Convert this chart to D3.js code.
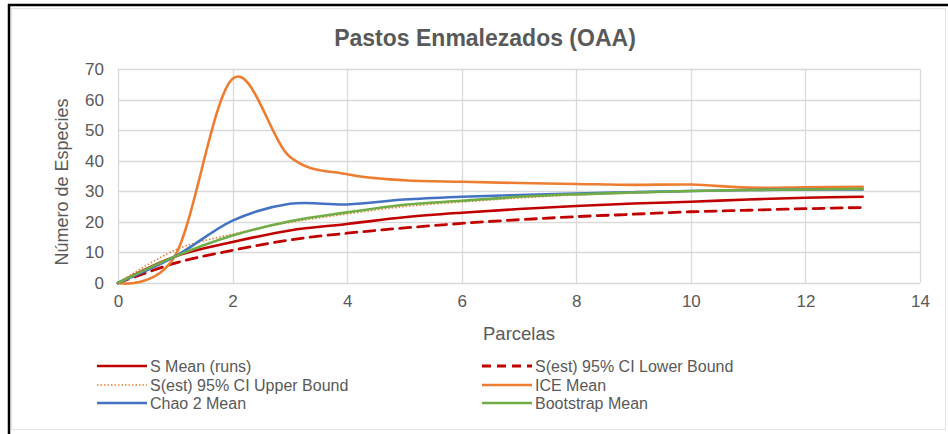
<!DOCTYPE html>
<html>
<head>
<meta charset="utf-8">
<script src="https://cdn.jsdelivr.net/npm/d3@7"></script>
<style>
  body { margin: 0; background: #fff; }
  svg { display: block; font-family: "Liberation Sans", Arial, sans-serif; }
</style>
</head>
<body>
<div class="chart"></div>
<script>
// parcelas 0..13
let parcelas = [0, 1, 2, 3, 4, 5, 6, 7, 8, 9, 10, 11, 12, 13]

let s_mean    = [0, 8.7, 13.4, 17.2, 19.3, 21.5, 23.0, 24.2, 25.2, 26.0, 26.6, 27.3, 27.9, 28.2]
let s_lower   = [0, 6.5, 10.7, 14.1, 16.3, 18.0, 19.5, 20.7, 21.7, 22.5, 23.3, 23.8, 24.3, 24.7]
let s_upper   = [0, 10.8, 16.0, 19.8, 22.6, 25.0, 26.5, 27.8, 28.8, 29.4, 30.0, 30.3, 30.6, 30.7]
let ice_mean  = [0, 9.0, 66.8, 41.3, 35.6, 33.6, 33.1, 32.7, 32.4, 32.1, 32.2, 31.2, 31.3, 31.5]
let chao2     = [0, 8.7, 20.4, 25.9, 25.7, 27.3, 28.2, 28.8, 29.3, 29.7, 30.1, 30.4, 30.6, 30.6]
let bootstrap = [0, 8.7, 15.5, 20.2, 23.1, 25.6, 26.9, 28.2, 29.0, 29.6, 30.1, 30.4, 30.6, 30.8]

let x_ticks = [0, 2, 4, 6, 8, 10, 12, 14]
let y_ticks = [0, 10, 20, 30, 40, 50, 60, 70]

let series = [
    {name: "S Mean (runs)", values: s_mean, color: "#C00000", width: 2.6, dash: null},
    {name: "S(est) 95% CI Lower Bound", values: s_lower, color: "#C00000", width: 2.8, dash: "11,7"},
    {name: "S(est) 95% CI Upper Bound", values: s_upper, color: "#ED7D31", width: 1.6, dash: "1.5,2"},
    {name: "ICE Mean", values: ice_mean, color: "#ED7D31", width: 2.6, dash: null},
    {name: "Chao 2 Mean", values: chao2, color: "#4472C4", width: 2.6, dash: null},
    {name: "Bootstrap Mean", values: bootstrap, color: "#70AD47", width: 2.6, dash: null}
]

let W = 948, H = 434
let margin = {top: 69, right: 30, bottom: 151, left: 118}
let width = 920 - margin.left
let height = 283 - margin.top

let svg = d3.select(".chart")
    .append("svg")
        .attr("width", W)
        .attr("height", H)

// outer frame
svg.append("rect")
    .attr("x", 11.5).attr("y", 8.5)
    .attr("width", W - 14).attr("height", H - 13)
    .attr("fill", "#fff")
    .attr("stroke", "#e3e3e3")
svg.append("line").attr("x1", 8).attr("x2", W).attr("y1", 5).attr("y2", 5)
    .attr("stroke", "#000").attr("stroke-width", 2.5)
svg.append("line").attr("x1", 9).attr("x2", 9).attr("y1", 4).attr("y2", H)
    .attr("stroke", "#000").attr("stroke-width", 2.5)

svg.append("text")
    .attr("x", 485).attr("y", 46)
    .attr("text-anchor", "middle")
    .attr("font-size", 23)
    .attr("font-weight", "bold")
    .attr("fill", "#595959")
    .text("Pastos Enmalezados (OAA)")

let g = svg.append("g")
    .attr("transform", "translate(" + margin.left + "," + margin.top + ")")

let x = d3.scaleLinear().domain([0, 14]).range([0, width])
let y = d3.scaleLinear().domain([0, 70]).range([height, 0])

// grid
g.append("g")
    .selectAll("line.h")
    .data(y_ticks)
    .enter().append("line")
        .attr("x1", 0).attr("x2", width)
        .attr("y1", d => Math.round(y(d)) + 0.5).attr("y2", d => Math.round(y(d)) + 0.5)
        .attr("stroke", "#d9d9d9").attr("stroke-width", 1.3)
g.append("g")
    .selectAll("line.v")
    .data(x_ticks)
    .enter().append("line")
        .attr("x1", d => Math.round(x(d)) + 0.5).attr("x2", d => Math.round(x(d)) + 0.5)
        .attr("y1", 0).attr("y2", height)
        .attr("stroke", "#d9d9d9").attr("stroke-width", 1.3)

// axes
let x_axis = g.append("g")
    .attr("transform", "translate(0," + height + ")")
    .call(d3.axisBottom(x).tickValues(x_ticks).tickSize(0).tickPadding(12))
let y_axis = g.append("g")
    .call(d3.axisLeft(y).tickValues(y_ticks).tickSize(0).tickPadding(14))
for (let ax of [x_axis, y_axis]) {
    ax.select(".domain").remove()
    ax.selectAll("text")
        .attr("font-size", 17)
        .attr("fill", "#595959")
        .attr("font-family", "Liberation Sans, Arial, sans-serif")
}

svg.append("text")
    .attr("transform", "translate(68," + (margin.top + height / 2 + 6) + ") rotate(-90)")
    .attr("text-anchor", "middle")
    .attr("font-size", 18)
    .attr("fill", "#595959")
    .text("Número de Especies")

svg.append("text")
    .attr("x", margin.left + width / 2).attr("y", 340)
    .attr("text-anchor", "middle")
    .attr("font-size", 18.5)
    .attr("fill", "#595959")
    .text("Parcelas")

// lines
let line = d3.line()
    .x((d, i) => x(parcelas[i]))
    .y(d => y(d))
    .curve(d3.curveCatmullRom.alpha(0))

for (let s of series) {
    g.append("path")
        .datum(s.values)
        .attr("fill", "none")
        .attr("stroke", s.color)
        .attr("stroke-width", s.width)
        .attr("stroke-dasharray", s.dash)
        .attr("stroke-linecap", s.dash && s.dash.startsWith("1.5") ? "butt" : "round")
        .attr("d", line)
}

// legend
let leg_pos = [
    {x: 97, y: 366}, {x: 482, y: 366},
    {x: 97, y: 385}, {x: 482, y: 385},
    {x: 97, y: 403}, {x: 482, y: 403}
]
let leg_order = [0, 1, 2, 3, 4, 5]
leg_order.forEach((si, i) => {
    let s = series[si]
    let p = leg_pos[i]
    let lg = svg.append("g").attr("transform", "translate(" + p.x + "," + p.y + ")")
    lg.append("line")
        .attr("x1", 0).attr("x2", 50).attr("y1", 0).attr("y2", 0)
        .attr("stroke", s.color)
        .attr("stroke-width", s.width)
        .attr("stroke-dasharray", s.dash ? (s.dash == "11,7" ? "9,6" : s.dash) : null)
    lg.append("text")
        .attr("x", 53).attr("y", 5.5)
        .attr("font-size", 16)
        .attr("fill", "#595959")
        .text(s.name)
})
</script>
</body>
</html>
